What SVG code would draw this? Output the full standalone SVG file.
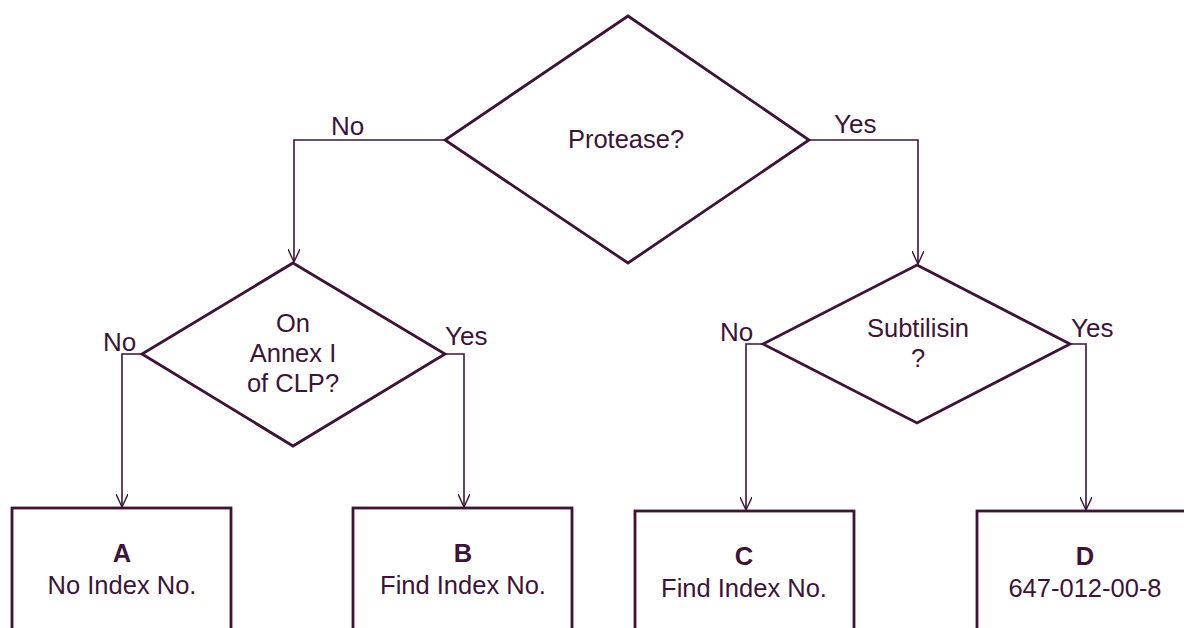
<svg xmlns="http://www.w3.org/2000/svg" width="1184" height="628" viewBox="0 0 1184 628">
<defs>
<style>
.shape{fill:#fff;stroke:#3d1438;stroke-width:2.8}
.conn{fill:none;stroke:#3d1438;stroke-width:1.6}
text{font-family:"Liberation Sans",Arial,sans-serif;font-size:25.5px;fill:#3d1438;text-anchor:middle}
.lbl{text-anchor:start;font-size:26px}
.b{font-weight:bold}
</style>
<marker id="arr" viewBox="0 0 14 12" refX="13" refY="6" markerWidth="14" markerHeight="12" markerUnits="userSpaceOnUse" orient="auto">
<path d="M0,0 L13,6 L0,12" fill="none" stroke="#3d1438" stroke-width="1.4"/>
</marker>
</defs>
<rect width="1184" height="628" fill="#fff"/>
<g id="connectors">
<polyline class="conn" points="445,140 294,140 294,262" marker-end="url(#arr)"/>
<polyline class="conn" points="809,140 918,140 918,264" marker-end="url(#arr)"/>
<polyline class="conn" points="142,354 122,354 122,507" marker-end="url(#arr)"/>
<polyline class="conn" points="445,354 464,354 464,507" marker-end="url(#arr)"/>
<polyline class="conn" points="763,344 746,344 746,510" marker-end="url(#arr)"/>
<polyline class="conn" points="1070,344 1086,344 1086,510" marker-end="url(#arr)"/>
<text class="lbl" x="331" y="135">No</text>
<text class="lbl" x="834" y="133">Yes</text>
<text class="lbl" x="103" y="351">No</text>
<text class="lbl" x="445" y="345">Yes</text>
<text class="lbl" x="720" y="341">No</text>
<text class="lbl" x="1071" y="337">Yes</text>
</g>
<g id="protease">
<polygon class="shape" points="628,16 809,140 628,263 445,140"/>
<text x="626" y="148">Protease?</text>
</g>
<g id="annex">
<polygon class="shape" points="293,263 445,354 293,446 142,354"/>
<text x="293" y="332">On</text>
<text x="293" y="362">Annex I</text>
<text x="293" y="392">of CLP?</text>
</g>
<g id="subtilisin">
<polygon class="shape" points="917,265 1070,344 917,423 763,344"/>
<text x="918" y="337">Subtilisin</text>
<text x="918" y="367">?</text>
</g>
<g id="boxA">
<rect class="shape" x="12" y="508" width="219" height="140"/>
<text class="b" x="122" y="562">A</text>
<text x="122" y="594">No Index No.</text>
</g>
<g id="boxB">
<rect class="shape" x="353" y="508" width="219" height="140"/>
<text class="b" x="463" y="562">B</text>
<text x="463" y="594">Find Index No.</text>
</g>
<g id="boxC">
<rect class="shape" x="635" y="511" width="219" height="140"/>
<text class="b" x="744" y="565">C</text>
<text x="744" y="597">Find Index No.</text>
</g>
<g id="boxD">
<rect class="shape" x="977" y="511" width="219" height="140"/>
<text class="b" x="1085" y="565">D</text>
<text x="1085" y="597">647-012-00-8</text>
</g>
</svg>
